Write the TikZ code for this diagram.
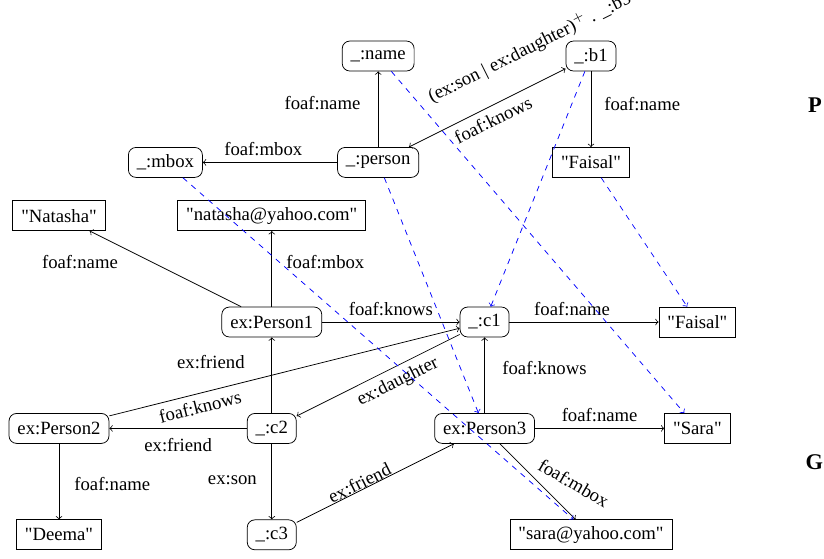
\documentclass[tikz,border=0pt]{standalone}
\usepackage{fontspec}
\setmainfont{Liberation Serif}
\newcommand{\qlit}[1]{\textquotedbl#1\textquotedbl}
\begin{document}
\begin{tikzpicture}[
  res/.style={draw, rounded corners=4pt, inner xsep=4.5pt, inner ysep=3.5pt, minimum height=16pt},
  lit/.style={draw, inner xsep=4.5pt, inner ysep=3.5pt, minimum height=16pt},
  rel/.style={->},
  map/.style={->, blue, dashed},
  side/.style={font=\large\bfseries}
]
\useasboundingbox (-1.109,-9.436) rectangle (14.380,1.053);
% pattern
\node[res] (name) at (6,0) {\_:name};
\node[res] (b1) at (10,0) {\_:b1};
\node[res] (mbox) at (2,-2) {\_:mbox};
\node[res] (person) at (6,-2) {\_:person};
\node[lit] (faisalT) at (10,-2) {\qlit{Faisal}};
% graph
\node[lit] (natasha) at (0,-3) {\qlit{Natasha}};
\node[lit] (natashaMail) at (4,-3) {\qlit{natasha@yahoo.com}};
\node[res] (p1) at (4,-5) {ex:Person1};
\node[res] (c1) at (8,-5) {\_:c1};
\node[lit] (faisalR) at (12,-5) {\qlit{Faisal}};
\node[res] (p2) at (0,-7) {ex:Person2};
\node[res] (c2) at (4,-7) {\_:c2};
\node[res] (p3) at (8,-7) {ex:Person3};
\node[lit] (sara) at (12,-7) {\qlit{Sara}};
\node[lit] (deema) at (0,-9) {\qlit{Deema}};
\node[res] (c3) at (4,-9) {\_:c3};
\node[lit] (saraMail) at (10,-9) {\qlit{sara@yahoo.com}};
\node[side] (P) at (14.21,-0.93) {P};
\node[side] (G) at (14.2,-7.63) {G};
% pattern edges
\draw[rel] (person) -- node[pos=0.58, left=6pt] {foaf:name} (name);
\draw[rel] (person) -- node[pos=0.55, above] {foaf:mbox} (mbox);
\draw[<->] (person) -- node[pos=0.87, sloped, above=10pt] {(ex:son | ex:daughter)$^+$ . \_:b5} node[midway, sloped, below] {foaf:knows} (b1);
\draw[rel] (b1) -- node[pos=0.43, right=3.6pt] {foaf:name} (faisalT);
% graph edges
\draw[rel] (p1) -- node[pos=0.77, below left] {foaf:name} (natasha);
\draw[rel] (p1) -- node[pos=0.59, right=4.3pt] {foaf:mbox} (natashaMail);
\draw[rel] (p1) -- node[above] {foaf:knows} (c1);
\draw[rel] (c2) -- node[pos=0.67, left=11pt] {ex:friend} (p1);
\draw[rel] (p2) -- node[pos=0.25, sloped, below] {foaf:knows} (c1);
\draw[rel] (c1) -- node[pos=0.42, sloped, below] {ex:daughter} (c2);
\draw[rel] (c2) -- node[below=2pt] {ex:friend} (p2);
\draw[rel] (p2) -- node[pos=0.53, right=4.7pt] {foaf:name} (deema);
\draw[rel] (c2) -- node[pos=0.48, left=4.5pt] {ex:son} (c3);
\draw[rel] (c3) -- node[pos=0.42, sloped, above=-3.3pt] {ex:friend} (p3);
\draw[rel] (p3) -- node[pos=0.59, right=6pt] {foaf:knows} (c1);
\draw[rel] (c1) -- node[pos=0.42, above] {foaf:name} (faisalR);
\draw[rel] (p3) -- node[above] {foaf:name} (sara);
\draw[rel] (p3) -- node[midway, xshift=19.3pt, yshift=-0.8pt, rotate=-30] {foaf:mbox} (saraMail);
% mapping
\draw[map] (name) -- (sara);
\draw[map] (b1) -- (c1);
\draw[map] (person) -- (p3);
\draw[map] (mbox) -- (saraMail);
\draw[map] (faisalT) -- (faisalR);
\end{tikzpicture}
\end{document}
